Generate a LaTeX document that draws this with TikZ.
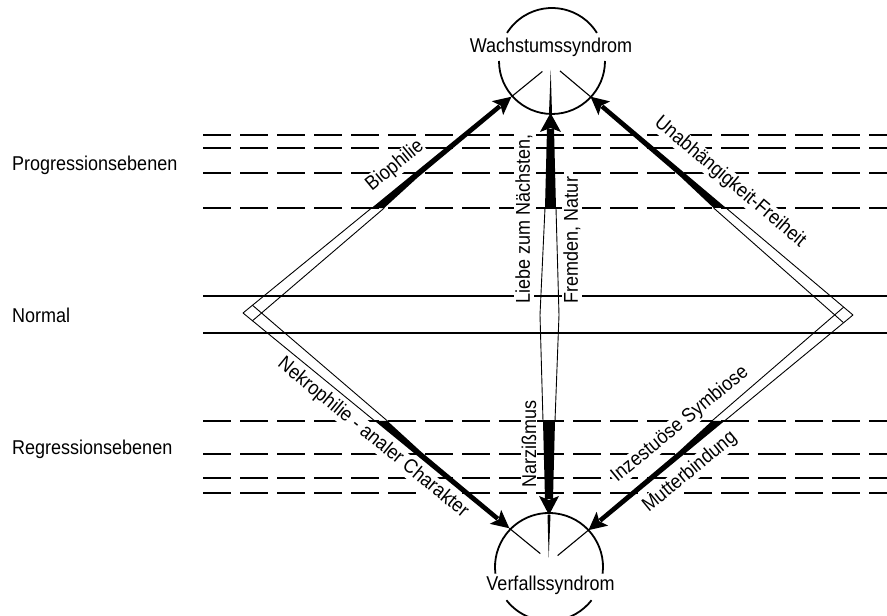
\documentclass[tikz,border=0pt]{standalone}
\usepackage{fontspec}
\setmainfont{Liberation Sans}[FakeStretch=0.9]
\usetikzlibrary{calc}
\tikzset{
  hline/.style={line width=1.2pt},
  dline/.style={line width=1.2pt, dash pattern=on 28pt off 9pt},
  bandline/.style={line width=0.9pt},
  circ/.style={line width=1.8pt},
  lab/.style={font=\fontsize{20}{22}\selectfont, fill=white, inner sep=1pt},
  plainlab/.style={font=\fontsize{20}{22}\selectfont, inner sep=0pt},
}
% #1 origin, #2 angle, #3 yscale, #4 u where black starts, #5 length to tip
\newcommand{\bandarrow}[5]{%
  \begin{scope}[shift={(#1)}, rotate=#2, yscale=#3]
    \draw[bandline] (0,0) -- (#4,0);
    \draw[bandline] (2.4,-12) -- ({#4+9.6},-8);
    \fill (#4,0) -- ({#4+9.6},-8) -- ({#4+55},-5.5) -- ({#5-15},-4.5) -- ({#5-15},0) -- cycle;
    \fill ({#5},-2.25) -- ({#5-18},-11.25) -- ({#5-14},-2.25) -- ({#5-18},6.75) -- cycle;
    \draw[line width=1.1pt] ({#5},-2.25) -- ({#5+40},-2.25);
  \end{scope}}
\begin{document}
\begin{tikzpicture}[x=1pt,y=1pt]
\useasboundingbox (0,0) rectangle (887,616);
\fill[white] (0,0) rectangle (887,616);

% level lines
\foreach \yy in {481,468,443,408,195,162,138,123}
  \draw[dline] (203,\yy) -- (887,\yy);
\foreach \yy in {320,283}
  \draw[hline] (203,\yy) -- (887,\yy);

% key points
\coordinate (L) at (243,303);
\coordinate (R) at (853,301);
\coordinate (top) at (552,555);
\coordinate (bot) at (549,49);

% labels
\node[plainlab, anchor=base west] (prog) at (12,445) {Progressionsebenen};
\node[plainlab, anchor=base west] (norm) at (12,293) {Normal};
\node[plainlab, anchor=base west] (regr) at (12,161) {Regressionsebenen};
\node[lab, rotate=39.23] (bio) at (395,450) {Biophilie};
\node[lab, rotate=-40.13] (unab) at (730,434) {Unabhängigkeit-Freiheit};
\node[lab, rotate=90] (liebe) at (524,397) {Liebe zum Nächsten,};
\node[lab, rotate=90] (frem) at (572,376) {Fremden, Natur};
\node[lab, rotate=90] (narz) at (529,172) {Narzißmus};
\node[lab, rotate=-39.32] (nekro) at (373,178) {Nekrophilie - analer Charakter};
\node[lab, rotate=39.5] (inz) at (680,191.5) {Inzestuöse Symbiose};
\node[lab, rotate=39.5] (mutt) at (690,144) {Mutterbindung};
\node[plainlab, anchor=base] (wachs) at (551,563) {Wachstumssyndrom};
\node[plainlab, anchor=base] (verf) at (550.5,25) {Verfallssyndrom};

% diagonal band arrows
\bandarrow{L}{39.23}{1}{166}{344.7}
\bandarrow{L}{-39.32}{-1}{170.5}{342.5}
\bandarrow{R}{139.87}{-1}{166}{341.4}
\bandarrow{R}{219.5}{1}{166.6}{341}

% central lens
\draw[bandline] (545,408) -- (540,301) -- (543,195);
\draw[bandline] (556,408) -- (559,301) -- (555,195);
% upward central arrow
\fill (545,408) -- (556,408) -- (554,487) -- (547,487) -- cycle;
\fill (550.5,503) -- (540,484) -- (550.5,488) -- (561,484) -- cycle;
\fill (549,503) -- (552,503) -- (550.7,546) -- cycle;
% downward central arrow
\fill (543,195) -- (555,195) -- (553,117) -- (545,117) -- cycle;
\fill (549,101) -- (539,120) -- (549,116) -- (559,120) -- cycle;
\fill (547.5,101) -- (550.5,101) -- (548.7,58) -- cycle;

% circles
\draw[circ] ($(top)+(32:53)$) arc[start angle=32, end angle=148, radius=53];
\draw[circ] ($(top)+(180:53)$) arc[start angle=180, end angle=360, radius=53];
\draw[circ] ($(bot)+(-7:54)$) arc[start angle=-7, end angle=187, radius=54];
\draw[circ] ($(bot)+(218:54)$) arc[start angle=218, end angle=322, radius=54];
\end{tikzpicture}
\end{document}
